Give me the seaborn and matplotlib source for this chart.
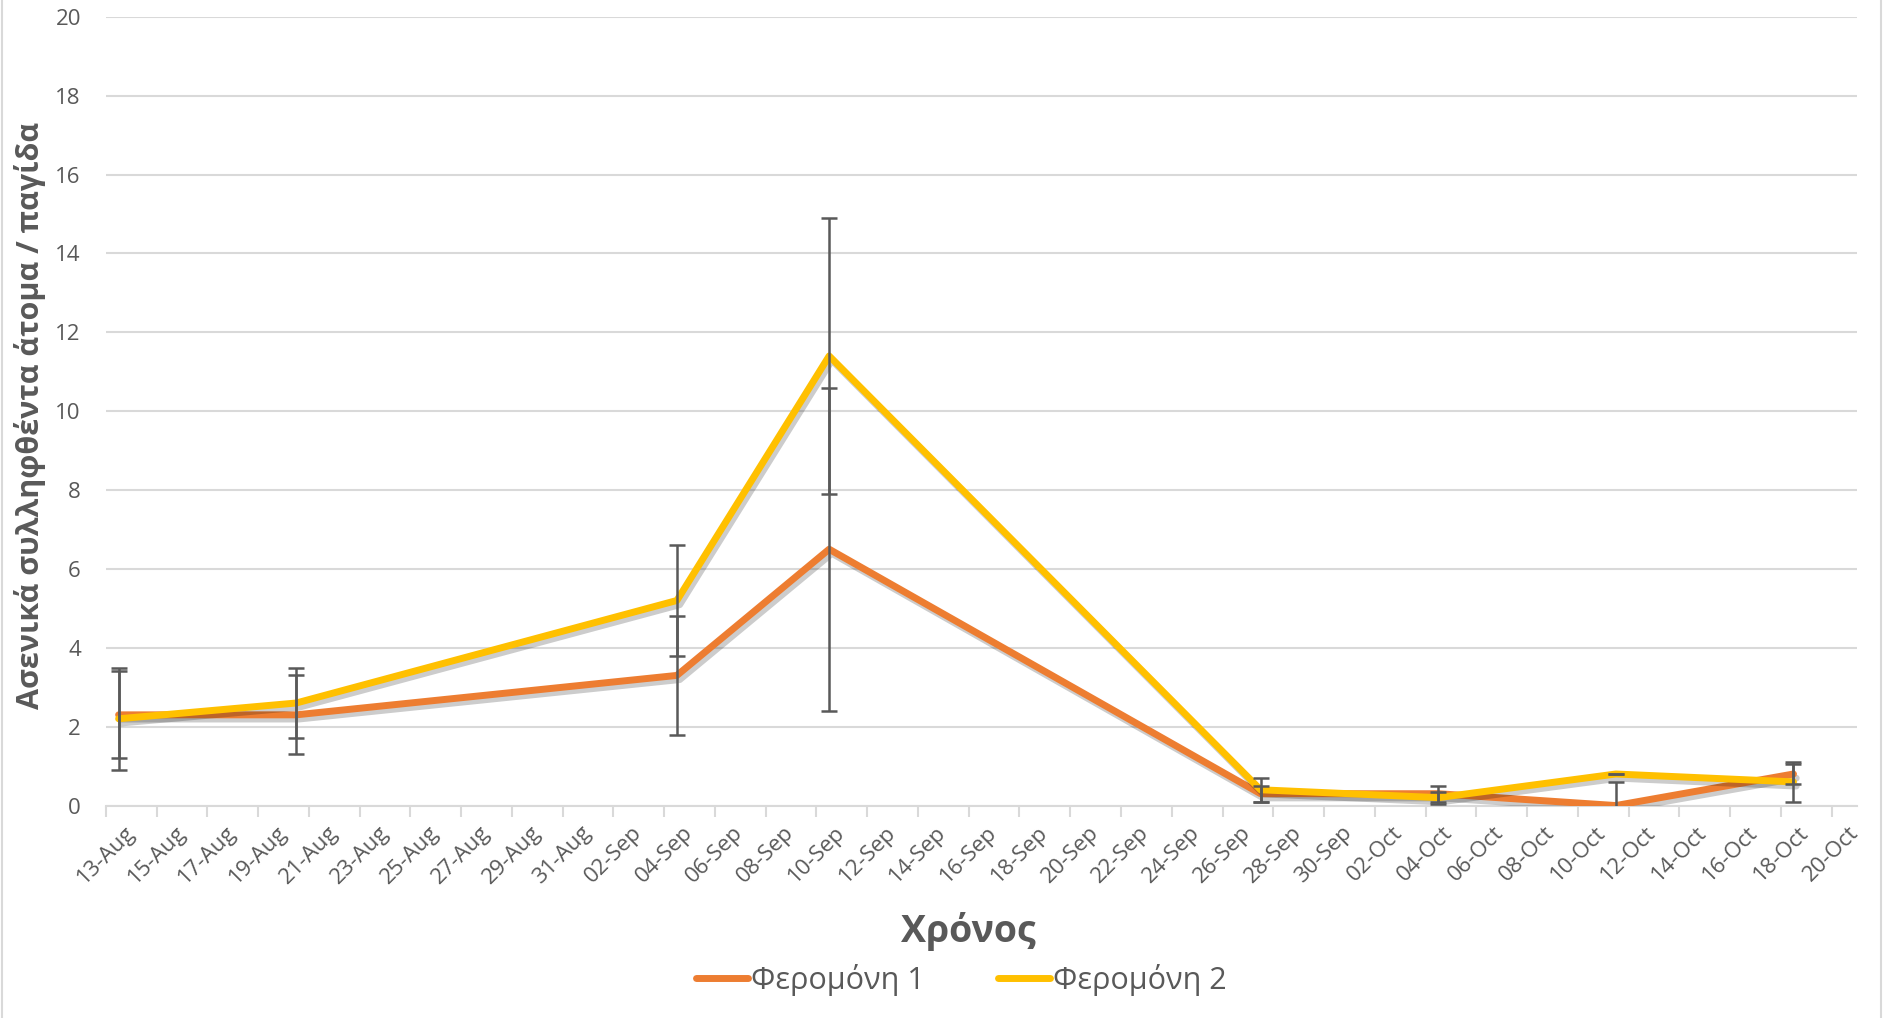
import matplotlib
matplotlib.use("Agg")
import matplotlib.pyplot as plt
import matplotlib.dates as mdates
import matplotlib.patheffects as pe
from matplotlib.lines import Line2D
import seaborn as sns
import pandas as pd

# sampling dates (trap checks)
dates = ["2021-08-13", "2021-08-20", "2021-09-04", "2021-09-10",
         "2021-09-27", "2021-10-04", "2021-10-11", "2021-10-18"]
# mean males caught per trap
pher1 = [2.3, 2.3, 3.3, 6.5, 0.3, 0.3, 0.0, 0.8]
pher2 = [2.2, 2.6, 5.2, 11.4, 0.4, 0.2, 0.8, 0.6]
# error bars (+/-)
err1 = [1.1, 1.0, 1.5, 4.1, 0.2, 0.2, 0.6, 0.25]
err2 = [1.3, 0.9, 1.4, 3.5, 0.3, 0.15, 0.0, 0.5]
series_names = ["Φερομόνη 1", "Φερομόνη 2"]
colors = ["#ED7D31", "#FFC000"]

grey = "#595959"
light = "#D9D9D9"

sns.set_style("white")
plt.rcParams["font.family"] = ["Open Sans", "DejaVu Sans"]

# excel date axis puts each point in the middle of its day
t = pd.to_datetime(dates) + pd.Timedelta(hours=12)
df = pd.DataFrame({
    "date": list(t) * 2,
    "value": pher1 + pher2,
    "series": [series_names[0]] * len(t) + [series_names[1]] * len(t),
})

fig = plt.figure(figsize=(18.85, 10.18), dpi=100)
ax = fig.add_axes([0.0562, 0.2087, 0.9289, 0.7748])

sns.lineplot(data=df, x="date", y="value", hue="series", palette=colors,
             linewidth=5, ax=ax, legend=False, zorder=3)
for ln in ax.lines:
    ln.set_path_effects([pe.SimpleLineShadow(offset=(2, -3), alpha=0.2, shadow_color="k"),
                         pe.Normal()])

for vals, errs in [(pher1, err1), (pher2, err2)]:
    ax.errorbar(t, vals, yerr=errs, fmt="none", ecolor=grey, elinewidth=1.8,
                capsize=6, capthick=1.8, zorder=4)

ax.set_ylim(0, 20)
ax.set_yticks(range(0, 21, 2))
ax.set_xlim(pd.Timestamp("2021-08-13"), pd.Timestamp("2021-10-21"))
ax.set_xticks(pd.date_range("2021-08-13", "2021-10-20", freq="2D"))
ax.xaxis.set_major_formatter(mdates.DateFormatter("%d-%b"))

ax.grid(axis="y", color=light, linewidth=1.5)
ax.set_axisbelow(True)
for s in ["left", "right", "top"]:
    ax.spines[s].set_visible(False)
ax.spines["bottom"].set_color(light)
ax.spines["bottom"].set_linewidth(1.5)
ax.tick_params(axis="x", length=8, width=1.5, color=light, labelsize=16,
               labelcolor=grey, pad=4, direction="out", bottom=True)
ax.tick_params(axis="y", length=0, labelsize=16, labelcolor=grey, pad=18)
for lab in ax.get_xticklabels():
    lab.set_rotation(45)
    lab.set_ha("center")

ax.set_xlabel("")
ax.set_ylabel("")
fig.text(0.5135, 0.0845, "Χρόνος", ha="center", va="center", fontsize=27,
         fontweight="bold", color=grey)
fig.text(0.016, 0.592, "Ασενικά συλληφθέντα άτομα / παγίδα", rotation=90,
         ha="center", va="center", fontsize=22, fontweight="bold", color=grey)

handles = [Line2D([], [], color=c, linewidth=5) for c in colors]
fig.legend(handles, series_names, loc="center", bbox_to_anchor=(0.510, 0.0373), ncol=2,
           frameon=False, fontsize=22, handlelength=1.7, handletextpad=0.1,
           columnspacing=2.4, labelcolor=grey)

# chart frame edges
fig.add_artist(Line2D([0.0008, 0.0008], [0, 1], color=light, linewidth=1.5))
fig.add_artist(Line2D([0.998, 0.998], [0, 1], color=light, linewidth=1.5))

fig.savefig("out.png", dpi=100)
